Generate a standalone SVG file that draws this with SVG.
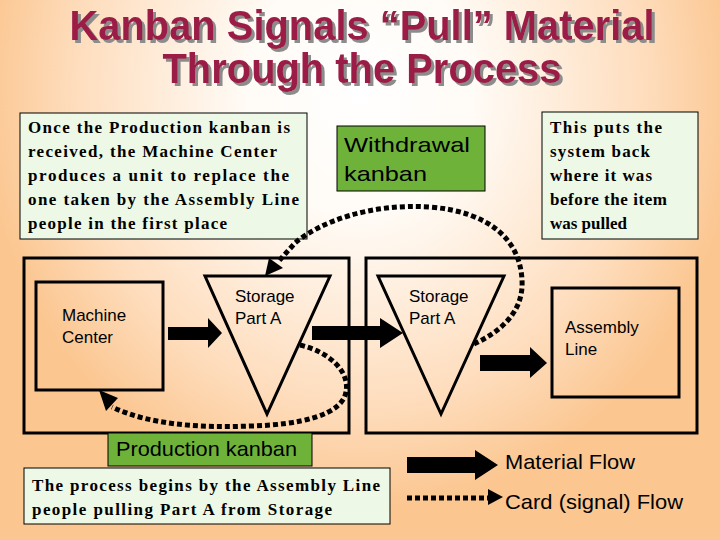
<svg xmlns="http://www.w3.org/2000/svg" width="720" height="540" viewBox="0 0 720 540">
<defs>
<radialGradient id="bg" gradientUnits="userSpaceOnUse" cx="360" cy="90" r="400" gradientTransform="translate(360 90) scale(0.95 1.05) translate(-360 -90)">
<stop offset="0" stop-color="#FFFFFF"/>
<stop offset="0.3" stop-color="#FFFBF6"/>
<stop offset="0.75" stop-color="#FEDDBD"/>
<stop offset="1" stop-color="#FBC690"/>
</radialGradient>
<filter id="shadow" x="-5%" y="-20%" width="110%" height="140%">
<feOffset in="SourceAlpha" dx="2.5" dy="2.5" result="off"/>
<feFlood flood-color="#8C8C8C"/>
<feComposite in2="off" operator="in" result="sh"/>
<feMerge><feMergeNode in="sh"/><feMergeNode in="SourceGraphic"/></feMerge>
</filter>
<style>
.note{fill:#EEF8E6;stroke:#000;stroke-width:1}
.nt{font-family:"Liberation Serif","Times New Roman",serif;font-weight:bold;font-size:17px;fill:#000}
.kb{fill:#6FB23A;stroke:#000;stroke-width:1}
.kt{font-family:"Liberation Sans",Arial,sans-serif;font-size:21px;fill:#000}
.box{fill:none;stroke:#000;stroke-width:3}
.lbl{font-family:"Liberation Sans",Arial,sans-serif;font-size:17px;fill:#000}
.card{fill:none;stroke:#000;stroke-width:5;stroke-dasharray:5 3}
.title{font-family:"Liberation Sans",Arial,sans-serif;font-weight:bold;font-size:42px;fill:#9B1C46}
</style>
</defs>
<rect x="0" y="0" width="720" height="540" fill="url(#bg)"/>
<g id="title" filter="url(#shadow)">
<text class="title" x="362" y="40" text-anchor="middle" textLength="585" lengthAdjust="spacingAndGlyphs">Kanban Signals “Pull” Material</text>
<text class="title" x="362" y="83" text-anchor="middle" textLength="399" lengthAdjust="spacingAndGlyphs">Through the Process</text>
</g>
<g id="note-left">
<rect class="note" x="20" y="113" width="287" height="126"/>
<text class="nt" x="28" y="133" textLength="262">Once the Production kanban is</text>
<text class="nt" x="28" y="157" textLength="249">received, the Machine Center</text>
<text class="nt" x="28" y="181" textLength="261">produces a unit to replace the</text>
<text class="nt" x="28" y="205" textLength="271">one taken by the Assembly Line</text>
<text class="nt" x="28" y="229" textLength="199">people in the first place</text>
</g>
<g id="withdrawal-kanban">
<rect class="kb" x="337" y="126" width="148" height="65"/>
<text class="kt" x="344" y="152" textLength="126" lengthAdjust="spacingAndGlyphs">Withdrawal</text>
<text class="kt" x="344" y="181" textLength="83" lengthAdjust="spacingAndGlyphs">kanban</text>
</g>
<g id="note-right">
<rect class="note" x="542" y="112" width="156" height="127"/>
<text class="nt" x="550" y="133" textLength="112">This puts the</text>
<text class="nt" x="550" y="157" textLength="100">system back</text>
<text class="nt" x="550" y="181" textLength="102">where it was</text>
<text class="nt" x="550" y="205" textLength="117">before the item</text>
<text class="nt" x="550" y="229" textLength="77">was pulled</text>
</g>
<g id="area-left">
<rect class="box" x="24" y="258" width="325" height="175"/>
</g>
<g id="machine-center">
<rect class="box" x="36" y="282" width="127" height="108"/>
<text class="lbl" x="62" y="321">Machine</text>
<text class="lbl" x="62" y="343">Center</text>
</g>
<g id="storage-1">
<polygon class="box" points="205,276 330,276 267,414"/>
<text class="lbl" x="235" y="302">Storage</text>
<text class="lbl" x="235" y="324">Part A</text>
</g>
<g id="area-right">
<rect class="box" x="366" y="258" width="331" height="175"/>
</g>
<g id="storage-2">
<polygon class="box" points="378,276 504,276 441,414"/>
<text class="lbl" x="409" y="302">Storage</text>
<text class="lbl" x="409" y="324">Part A</text>
</g>
<g id="assembly-line">
<rect class="box" x="552" y="288" width="127" height="109"/>
<text class="lbl" x="565" y="333">Assembly</text>
<text class="lbl" x="565" y="355">Line</text>
</g>
<g id="production-kanban">
<rect class="kb" x="108" y="433" width="204" height="33"/>
<text class="kt" x="116" y="456" font-size="20" textLength="181" lengthAdjust="spacingAndGlyphs">Production kanban</text>
</g>
<g id="note-bottom">
<rect class="note" x="24" y="468" width="366" height="56"/>
<text class="nt" x="32" y="491" textLength="348">The process begins by the Assembly Line</text>
<text class="nt" x="32" y="515" textLength="300">people pulling Part A from Storage</text>
</g>
<g id="connectors">
<polygon fill="#000" points="168,327 208,327 208,318 222,333 208,348 208,340 168,340"/>
<polygon fill="#000" points="312,326 380,326 380,318 403,333 380,348 380,340 312,340"/>
<polygon fill="#000" points="480,355 530,355 530,347 547,363 530,378 530,371 480,371"/>
<path class="card" d="M474,344 C500,332 524,312 522,280 C520,240 490,212 430,207 C370,203 320,222 295,243 L278,262"/>
<polygon fill="#000" points="265,276 269,258 283,268"/>
<path class="card" d="M300,345 C330,352 350,372 346,392 C342,415 300,425 250,426 C200,428 150,425 112,407"/>
<polygon fill="#000" points="99,390 118,398 106,411"/>
</g>
<g id="legend">
<polygon fill="#000" points="407,457 475,457 475,450 498,465 475,480 475,473 407,473"/>
<text class="kt" x="505" y="469" font-size="20" textLength="130" lengthAdjust="spacingAndGlyphs">Material Flow</text>
<line class="card" x1="407" y1="498" x2="490" y2="498" stroke-width="6"/>
<polygon fill="#000" points="488,489 503,497 488,505"/>
<text class="kt" x="505" y="509" font-size="20" textLength="178" lengthAdjust="spacingAndGlyphs">Card (signal) Flow</text>
</g>
</svg>
